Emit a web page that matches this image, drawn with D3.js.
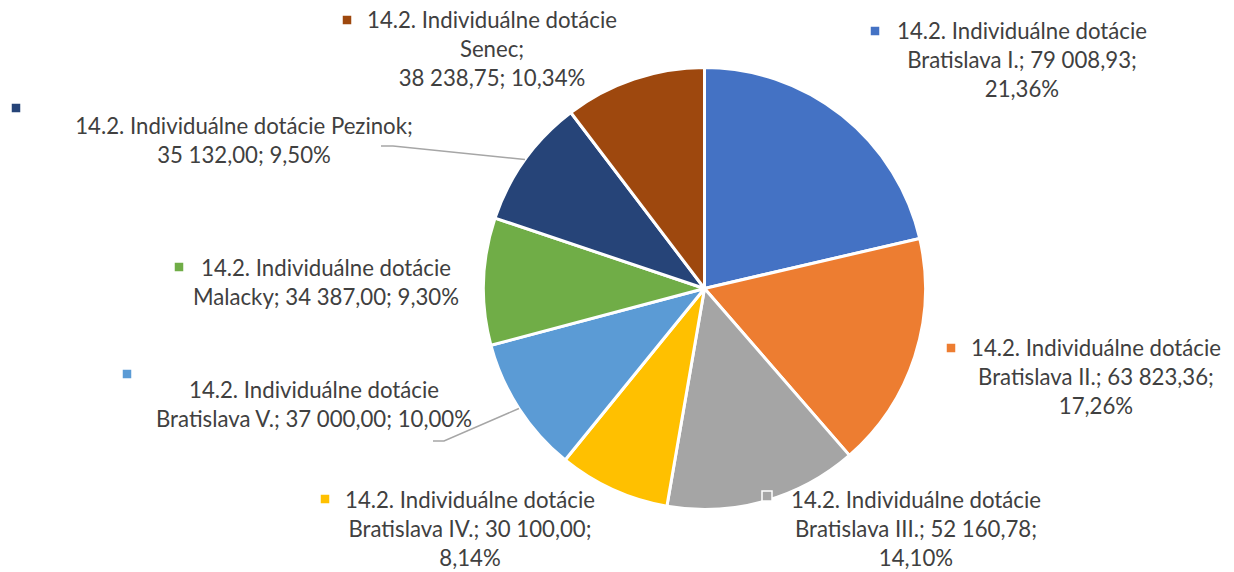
<!DOCTYPE html>
<html>
<head>
<meta charset="utf-8">
<script src="https://cdn.jsdelivr.net/npm/d3@7"></script>
<style>
    body { margin: 0; background: #fff; }
    svg { display: block; }
</style>
</head>
<body>
<div id="chart"></div>
<script>
// data
const categories = [
    '14.2. Individuálne dotácie Bratislava I.',
    '14.2. Individuálne dotácie Bratislava II.',
    '14.2. Individuálne dotácie Bratislava III.',
    '14.2. Individuálne dotácie Bratislava IV.',
    '14.2. Individuálne dotácie Bratislava V.',
    '14.2. Individuálne dotácie Malacky',
    '14.2. Individuálne dotácie Pezinok',
    '14.2. Individuálne dotácie Senec'
];
const values = [79008.93, 63823.36, 52160.78, 30100.00, 37000.00, 34387.00, 35132.00, 38238.75];
const colors = ['#4472C4', '#ED7D31', '#A5A5A5', '#FFC000', '#5B9BD5', '#70AD47', '#264478', '#9E480E'];
// words per line for every data label
const lineBreaks = [[3, 3, 1], [3, 3, 1], [3, 3, 1], [3, 3, 1], [3, 4], [3, 3], [4, 2], [3, 1, 2]];

// label placement (text centre x, first line y, legend key, leader start)
const labelLayout = [
    { x: 1022, y: 31, key: [875, 31] },
    { x: 1096, y: 348, key: [951, 348] },
    { x: 916, y: 500, key: [767, 496] },
    { x: 470, y: 500, key: [325, 499] },
    { x: 314, y: 390, key: [127, 374], leader: [[433, 441], [444, 441]] },
    { x: 326, y: 268, key: [179, 267] },
    { x: 244, y: 126, key: [16, 108], leader: [[381, 146], [393, 146]] },
    { x: 492, y: 20, key: [347, 20] }
];

const width = 1234, height = 572;
const cx = 704.5, cy = 288.5, radius = 221;
const lineHeight = 29;
const textColor = '#404040';

const sk = d3.formatLocale({ decimal: ',', thousands: '\u00a0', grouping: [3], currency: ['', ' €'] });
const fmtVal = sk.format(',.2f');
const fmtPct = sk.format('.2f');

const total = d3.sum(values);
const data = categories.map((c, i) => ({ name: c, value: values[i], color: colors[i], i }));

const svg = d3.select('#chart')
    .append('svg')
    .attr('width', width)
    .attr('height', height)
    .style('font-family', 'Lato, "Open Sans", sans-serif');

// fit the font size so a label line is as wide as in the reference (~250px)
const probe = svg.append('text').style('font-size', '100px').text('14.2. Individuálne dotácie');
const fontSize = 100 * 250 / probe.node().getComputedTextLength();
probe.remove();

const pie = d3.pie().value(d => d.value).sort(null);
const arcs = pie(data);
const arc = d3.arc().innerRadius(0).outerRadius(radius);

const viz = svg.append('g').attr('transform', `translate(${cx},${cy})`);

viz.selectAll('path')
    .data(arcs)
    .join('path')
    .attr('d', arc)
    .attr('fill', d => d.data.color)
    .attr('stroke', '#fff')
    .attr('stroke-width', 3)
    .attr('stroke-linejoin', 'round');

// leader lines end on the slice's outer edge at the mid angle
const edgePoint = a => {
    const m = (a.startAngle + a.endAngle) / 2;
    return [cx + radius * Math.sin(m), cy - radius * Math.cos(m)];
};

svg.append('g')
    .selectAll('path')
    .data(arcs.filter(a => labelLayout[a.data.i].leader))
    .join('path')
    .attr('d', a => d3.line()([...labelLayout[a.data.i].leader, edgePoint(a)]))
    .attr('fill', 'none')
    .attr('stroke', '#A6A6A6')
    .attr('stroke-width', 1.5);

// labels
const labels = svg.append('g')
    .selectAll('g')
    .data(arcs)
    .join('g');

labels.each(function (a) {
    const d = a.data;
    const pos = labelLayout[d.i];
    const full = `${d.name}; ${fmtVal(d.value)}; ${fmtPct(d.value / total * 100)}%`;
    const words = full.split(' ');
    const lines = [];
    let k = 0;
    lineBreaks[d.i].forEach(n => {
        lines.push(words.slice(k, k + n).join(' '));
        k += n;
    });

    const g = d3.select(this);
    g.append('rect')
        .attr('x', pos.key[0] - 5)
        .attr('y', pos.key[1] - 5)
        .attr('width', 10)
        .attr('height', 10)
        .attr('fill', d.color)
        .attr('stroke', '#fff')
        .attr('stroke-width', 1.5);

    g.selectAll('text')
        .data(lines)
        .join('text')
        .attr('x', pos.x)
        .attr('y', (t, j) => pos.y + j * lineHeight)
        .attr('dy', '0.35em')
        .attr('text-anchor', 'middle')
        .attr('fill', textColor)
        .style('font-size', fontSize + 'px')
        .text(t => t);
});
</script>
</body>
</html>
